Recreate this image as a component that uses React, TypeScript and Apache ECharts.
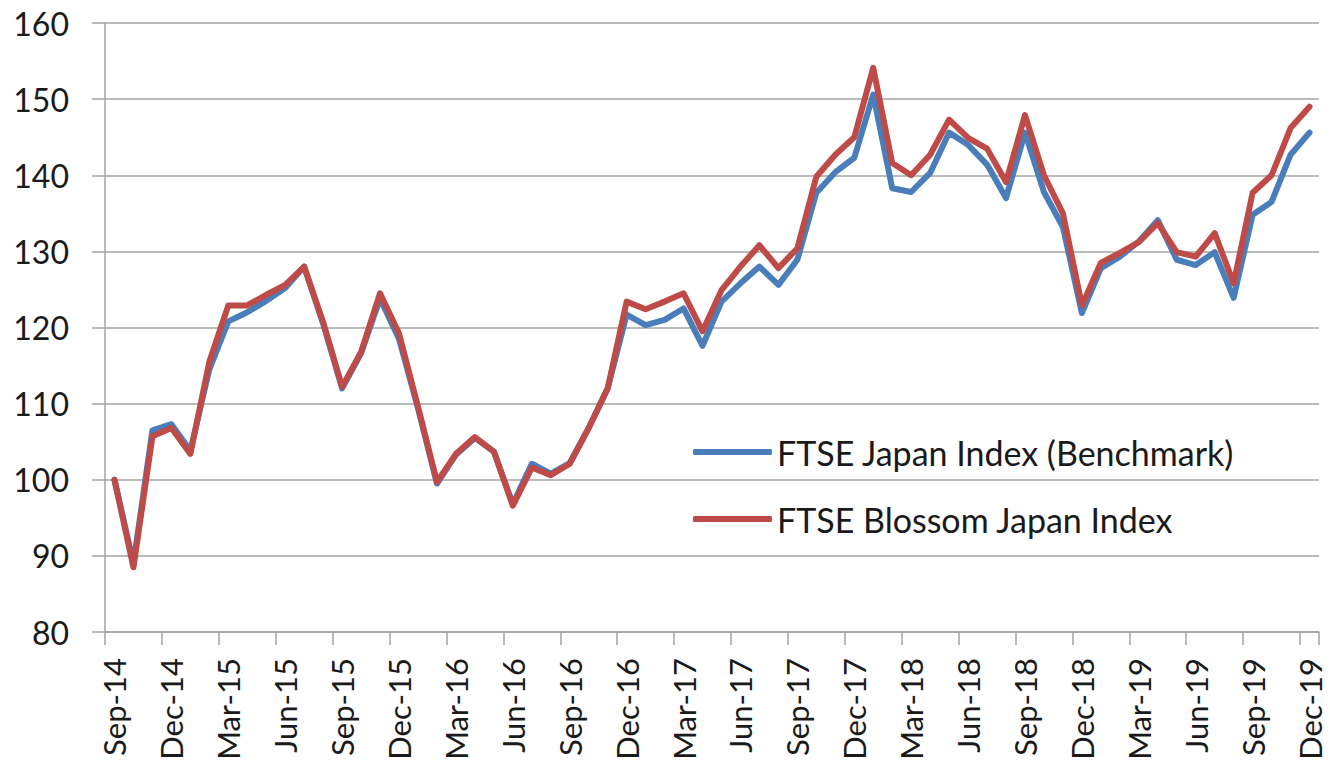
import React, { useEffect, useRef } from "react";
import * as echarts from "echarts";

const months: string[] = [
  "Sep-14","Oct-14","Nov-14","Dec-14","Jan-15","Feb-15","Mar-15","Apr-15","May-15","Jun-15","Jul-15","Aug-15",
  "Sep-15","Oct-15","Nov-15","Dec-15","Jan-16","Feb-16","Mar-16","Apr-16","May-16","Jun-16","Jul-16","Aug-16",
  "Sep-16","Oct-16","Nov-16","Dec-16","Jan-17","Feb-17","Mar-17","Apr-17","May-17","Jun-17","Jul-17","Aug-17",
  "Sep-17","Oct-17","Nov-17","Dec-17","Jan-18","Feb-18","Mar-18","Apr-18","May-18","Jun-18","Jul-18","Aug-18",
  "Sep-18","Oct-18","Nov-18","Dec-18","Jan-19","Feb-19","Mar-19","Apr-19","May-19","Jun-19","Jul-19","Aug-19",
  "Sep-19","Oct-19","Nov-19","Dec-19",
];

const benchmark: number[] = [
  100.0, 89.0, 106.5, 107.3, 103.8, 114.5, 120.8, 122.0, 123.5, 125.2, 128.0, 120.5,
  112.0, 116.6, 123.8, 118.5, 109.4, 99.5, 103.3, 105.5, 103.7, 96.8, 102.1, 100.8,
  102.2, 106.8, 112.0, 121.7, 120.3, 121.0, 122.5, 117.6, 123.4, 125.8, 128.0, 125.6,
  128.9, 137.7, 140.4, 142.3, 150.6, 138.3, 137.8, 140.3, 145.6, 144.0, 141.4, 137.0,
  145.6, 137.8, 133.2, 121.9, 127.8, 129.3, 131.3, 134.1, 128.9, 128.2, 129.9, 123.9,
  134.8, 136.5, 142.7, 145.6,
];

const blossom: number[] = [
  100.0, 88.5, 105.7, 106.8, 103.4, 115.5, 122.9, 122.9, 124.3, 125.6, 128.0, 120.7,
  112.2, 116.8, 124.5, 119.2, 109.6, 99.7, 103.4, 105.6, 103.7, 96.6, 101.6, 100.6,
  102.1, 106.8, 112.0, 123.4, 122.4, 123.4, 124.5, 119.5, 124.9, 128.0, 130.8, 127.8,
  130.4, 139.8, 142.7, 145.0, 154.1, 141.6, 140.0, 142.7, 147.3, 144.9, 143.5, 139.1,
  147.9, 140.0, 135.0, 122.9, 128.5, 129.8, 131.2, 133.7, 129.9, 129.3, 132.4, 125.8,
  137.7, 140.0, 146.2, 149.0,
];

const seriesNames: string[] = ["FTSE Japan Index (Benchmark)", "FTSE Blossom Japan Index"];

const FONT = "Lato, 'Open Sans', sans-serif";
const GRID_COLOR = "#a3a3a3";

export default function App() {
  const ref = useRef<HTMLDivElement>(null);

  useEffect(() => {
    if (!ref.current) return;
    const chart = echarts.init(ref.current, undefined, { renderer: "svg" });
    chart.setOption({
      animation: false,
      backgroundColor: "#ffffff",
      grid: { left: 105, top: 23, width: 1214, height: 609, containLabel: false },
      legend: {
        orient: "vertical",
        left: 688,
        top: 427,
        itemWidth: 79,
        itemHeight: 6,
        itemGap: 27,
        icon: "roundRect",
        textStyle: { fontFamily: FONT, fontSize: 34, color: "#1a1a1a", lineHeight: 40 },
        data: seriesNames,
      },
      xAxis: {
        type: "category",
        data: months,
        boundaryGap: true,
        axisLine: { show: true, lineStyle: { color: GRID_COLOR, width: 1.5 } },
        axisTick: { show: true, interval: 2, length: 13, alignWithLabel: false, lineStyle: { color: GRID_COLOR, width: 1.5 } },
        axisLabel: { interval: 2, rotate: 90, margin: 26, fontFamily: FONT, fontSize: 31, lineHeight: 24, color: "#1a1a1a" },
        splitLine: { show: false },
      },
      yAxis: {
        type: "value",
        min: 80,
        max: 160,
        interval: 10,
        axisLine: { show: true, lineStyle: { color: GRID_COLOR, width: 1.5 } },
        axisTick: { show: true, length: 13, lineStyle: { color: GRID_COLOR, width: 1.5 } },
        axisLabel: { margin: 36, fontFamily: FONT, fontSize: 32, color: "#1a1a1a" },
        splitLine: { show: true, lineStyle: { color: GRID_COLOR, width: 1.5 } },
      },
      series: [
        {
          name: seriesNames[0],
          type: "line",
          data: benchmark,
          showSymbol: false,
          symbol: "none",
          lineStyle: { color: "#4a7ebb", width: 6, join: "round", cap: "round" },
          itemStyle: { color: "#4a7ebb" },
        },
        {
          name: seriesNames[1],
          type: "line",
          data: blossom,
          showSymbol: false,
          symbol: "none",
          lineStyle: { color: "#be4b48", width: 6, join: "round", cap: "round" },
          itemStyle: { color: "#be4b48" },
        },
      ],
    });
    return () => chart.dispose();
  }, []);

  return (
    <div
      ref={ref}
      style={{ position: "fixed", left: 0, top: 0, width: 1330, height: 767, background: "#fff" }}
    />
  );
}
